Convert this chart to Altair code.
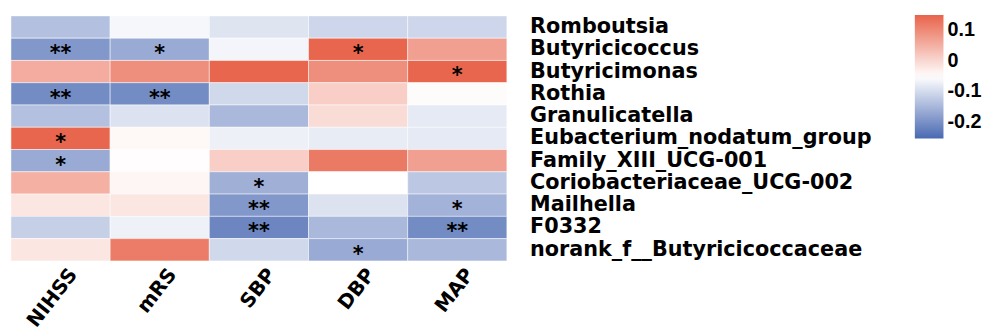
import altair as alt
import pandas as pd

genera = ["Romboutsia", "Butyricicoccus", "Butyricimonas", "Rothia", "Granulicatella",
          "Eubacterium_nodatum_group", "Family_XIII_UCG-001", "Coriobacteriaceae_UCG-002",
          "Mailhella", "F0332", "norank_f__Butyricicoccaceae"]
variables = ["NIHSS", "mRS", "SBP", "DBP", "MAP"]

nihss = [-0.137, -0.191, 0.056, -0.208, -0.137, 0.147, -0.166, 0.051, -0.020, -0.117, -0.020]
mrs   = [-0.063, -0.166, 0.095, -0.208, -0.091, -0.043, -0.050, -0.040, -0.020, -0.071, 0.119]
sbp   = [-0.088, -0.065, 0.147, -0.105, -0.148, -0.072, 0.012, -0.160, -0.191, -0.216, -0.105]
dbp   = [-0.108, 0.147, 0.095, 0.012, -0.007, -0.078, 0.121, -0.052, -0.091, -0.148, -0.166]
map_  = [-0.108, 0.073, 0.147, -0.047, -0.081, -0.081, 0.073, -0.127, -0.156, -0.208, -0.148]

nihss_sig = ["", "**", "", "**", "", "*", "*", "", "", "", ""]
mrs_sig   = ["", "*", "", "**", "", "", "", "", "", "", ""]
sbp_sig   = ["", "", "", "", "", "", "", "*", "**", "**", ""]
dbp_sig   = ["", "*", "", "", "", "", "", "", "", "", "*"]
map_sig   = ["", "", "*", "", "", "", "", "", "*", "**", ""]

legend_values = [0.1, 0, -0.1, -0.2]

cols = {"NIHSS": (nihss, nihss_sig), "mRS": (mrs, mrs_sig), "SBP": (sbp, sbp_sig),
        "DBP": (dbp, dbp_sig), "MAP": (map_, map_sig)}
rows = []
for v in variables:
    vals, sigs = cols[v]
    for g, val, s in zip(genera, vals, sigs):
        rows.append({"genus": g, "var": v, "value": val, "sig": s})
df = pd.DataFrame(rows)

FONT = "DejaVu Sans"
LFONT = "Liberation Sans"

x_enc = alt.X("var:N", sort=variables, title=None,
              axis=alt.Axis(labelAngle=-52, labelFontSize=20, labelFontWeight="bold",
                            labelFont=FONT, labelColor="black", ticks=False, domain=False,
                            labelPadding=10, labelOffset=13, labelAlign="right",
                            labelBaseline="middle"))
y_enc = alt.Y("genus:N", sort=genera, title=None,
              axis=alt.Axis(orient="right", labelFontSize=21, labelFontWeight="bold",
                            labelFont=FONT, labelColor="black", ticks=False, domain=False,
                            labelPadding=23, labelLimit=600))

base = alt.Chart(df)
rect = base.mark_rect(stroke="white", strokeWidth=0.5).encode(
    x=x_enc, y=y_enc,
    color=alt.Color("value:Q",
                    scale=alt.Scale(domain=[-0.255, -0.052, 0.151],
                                    range=["#4A69B2", "#FFFFFF", "#E8634A"],
                                    interpolate="rgb"),
                    legend=alt.Legend(orient="none", legendX=915, legendY=-1,
                                      gradientLength=125, gradientThickness=29,
                                      title=None, values=legend_values,
                                      labelFontSize=20, labelFontWeight="bold",
                                      labelFont=LFONT, labelColor="black", labelOffset=4,
                                      gradientStrokeWidth=0,
                                      labelExpr="datum.value == 0 ? '0' : toString(datum.value)"))
)
text = base.mark_text(fontSize=21, fontWeight="bold", font=FONT, color="black",
                      baseline="middle", dy=5).encode(
    x=alt.X("var:N", sort=variables), y=alt.Y("genus:N", sort=genera), text="sig:N")

chart = (rect + text).properties(
    width=502, height=248,
    padding={"left": 2, "top": 5, "right": 0, "bottom": 0}
).configure_view(stroke=None)

chart.save("out.html", embed_options={"renderer": "svg", "actions": False})
